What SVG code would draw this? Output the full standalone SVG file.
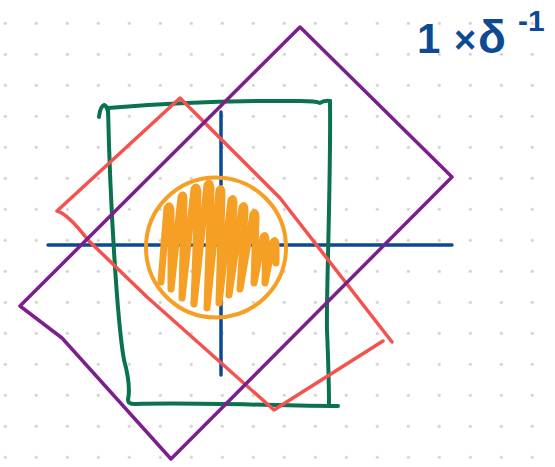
<svg xmlns="http://www.w3.org/2000/svg" width="555" height="467" viewBox="0 0 555 467">
  <defs>
    <pattern id="dots" patternUnits="userSpaceOnUse" x="-10.2" y="7.8" width="31" height="31">
      <circle cx="15.5" cy="15.5" r="1.6" fill="#d0d0d0"/>
    </pattern>
    <style>
      .ln { fill: none; stroke-linecap: round; stroke-linejoin: round; }
      .green { stroke: #0b7250; stroke-width: 4; }
      .red { stroke: #f4524f; stroke-width: 3.5; }
      .purple { stroke: #7c1f8e; stroke-width: 3.5; }
      .blue { stroke: #0b4a92; stroke-width: 3.5; }
      .orange { stroke: #f5a024; }
      .label { font-family: "Liberation Sans", Arial, sans-serif; font-weight: bold; fill: #0d4a94; }
    </style>
  </defs>
  <rect width="555" height="467" fill="#ffffff"/>
  <rect width="555" height="467" fill="url(#dots)"/>

  <g id="connectors">
    <g id="axes">
      <path class="ln blue" d="M48,245 L452,245"/>
      <path class="ln blue" d="M221,112 L221,375"/>
    </g>
  </g>

  <g id="green-rect">
    <path class="ln green" d="M99,117 Q100,107 104,105 Q107,106 108,112"/>
    <path class="ln green" d="M108,108 Q200,100 300,101 Q316,101 320,103 Q324,100 330,101"/>
    <path class="ln green" d="M108,108 C110,200 117,320 124,360 Q131,385 128,400 Q128,404 135,404 C200,402 280,406 338,406"/>
    <path class="ln green" d="M330,101 C331,180 326,300 327,330 Q329,380 329,405"/>
  </g>

  <g id="red-rect">
    <path class="ln red" d="M392,342 L280,198 L180,98 L57,211 Q68,214 88,240 L147,297 L274,410 L383,341"/>
  </g>

  <g id="purple-square">
    <path class="ln purple" d="M300,27 L452,177 L171,459 L62,338 L20,306 Z"/>
  </g>

  <g id="orange-circle">
    <circle class="ln orange" cx="216" cy="247.5" r="70" stroke-width="4"/>
    <path class="ln orange" stroke-width="7" d="M161,282 L167,208 Q170,203 171,210 L171,289 L181,197 Q184,192 184,200 L182,298 L194,189 Q197,184 198,192 L194,304 L207,185 Q210,180 211,188 L207,308 L219,190 Q222,186 222,194 L219,303 L231,200 Q234,196 234,204 L229,295 L242,207 Q245,203 245,211 L240,289 L253,214 Q256,210 256,218 L254,283 L263,237 Q266,233 266,241 L265,283 L273,242 Q276,238 276,246 L276,263"/>
  </g>

  <g id="label">
    <text class="label" x="417" y="53" font-size="42">1<tspan x="454" font-size="38">×</tspan><tspan x="478" font-size="46">δ</tspan><tspan x="518" y="31" font-size="30">-1</tspan></text>
  </g>
</svg>
